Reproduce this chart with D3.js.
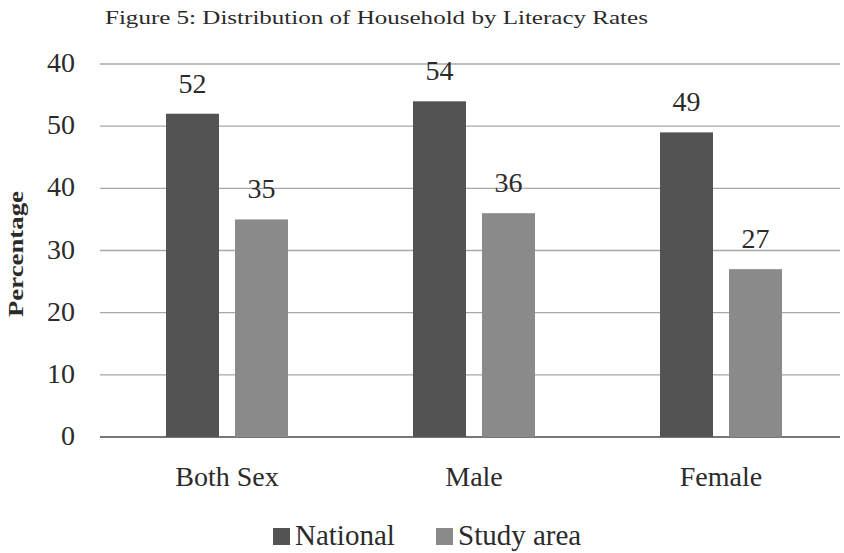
<!DOCTYPE html>
<html>
<head>
<meta charset="utf-8">
<script src="https://cdn.jsdelivr.net/npm/d3@7"></script>
<style>
  html, body { margin: 0; padding: 0; background: #fff; }
  svg { display: block; }
  text { font-family: "Liberation Serif", "Times New Roman", serif; fill: #2b2b2b; }
</style>
</head>
<body>
<svg id="chart" width="844" height="553"></svg>
<script>
// Literacy rates by sex, national vs. study area
const categories = ["Both Sex", "Male", "Female"];
const seriesNames = ["National", "Study area"];
const national = [52, 54, 49];
const studyArea = [35, 36, 27];
const tickValues = [0, 10, 20, 30, 40, 50, 60];
const tickLabels = ["0", "10", "20", "30", "40", "50", "40"];
const colors = ["#535353", "#8a8a8a"];

const svg = d3.select("#chart");
const W = 844;
const plotLeft = 103.5, plotRight = 844.5, plotTop = 64, plotBottom = 437;

const x = d3.scaleBand().domain(categories).range([plotLeft, plotRight]).padding(0);
const y = d3.scaleLinear().domain([0, 60]).range([plotBottom, plotTop]);
// two bars per category, centred in the band with a small gap between them
const groupWidth = 122;
const groupInner = d3.scaleBand().domain(seriesNames)
  .range([(x.bandwidth() - groupWidth) / 2, (x.bandwidth() + groupWidth) / 2])
  .paddingInner(0.232).paddingOuter(0);

// Title, widened horizontally to its full run
const title = svg.append("text")
  .attr("x", 0).attr("y", 0)
  .attr("font-size", 19)
  .text("Figure 5: Distribution of Household by Literacy Rates");
const titleW = title.node().getComputedTextLength();
title.attr("transform", `translate(105, 24) scale(${543 / titleW}, 1)`);

// Gridlines
svg.append("g")
  .selectAll("line")
  .data(tickValues)
  .join("line")
  .attr("x1", 100).attr("x2", W - 4)
  .attr("y1", d => y(d)).attr("y2", d => y(d))
  .attr("stroke", d => d === 0 ? "#4a4a4a" : "#a8a8a8")
  .attr("stroke-width", d => d === 0 ? 1.6 : 1.3);

// Y tick labels
svg.append("g")
  .selectAll("text")
  .data(tickValues)
  .join("text")
  .attr("x", 75)
  .attr("y", d => y(d) + 8)
  .attr("text-anchor", "end")
  .attr("font-size", 28)
  .text((d, i) => tickLabels[i]);

// Y axis title
svg.append("text")
  .attr("transform", `translate(23, 254) rotate(-90)`)
  .attr("text-anchor", "middle")
  .attr("font-size", 21)
  .attr("font-weight", "bold")
  .attr("textLength", 126)
  .attr("lengthAdjust", "spacingAndGlyphs")
  .text("Percentage");

// Bars
const rows = categories.map((c, i) => ({ cat: c, vals: [national[i], studyArea[i]] }));
const groups = svg.append("g")
  .selectAll("g")
  .data(rows)
  .join("g")
  .attr("transform", d => `translate(${x(d.cat)},0)`);

groups.selectAll("rect")
  .data(d => d.vals.map((v, j) => ({ s: seriesNames[j], v, j })))
  .join("rect")
  .attr("x", d => groupInner(d.s))
  .attr("width", groupInner.bandwidth())
  .attr("y", d => y(d.v))
  .attr("height", d => y(0) - y(d.v))
  .attr("fill", d => colors[d.j]);

// Value labels
groups.selectAll("text")
  .data(d => d.vals.map((v, j) => ({ s: seriesNames[j], v, j })))
  .join("text")
  .attr("x", d => groupInner(d.s) + groupInner.bandwidth() / 2)
  .attr("y", d => y(d.v) - 21)
  .attr("text-anchor", "middle")
  .attr("font-size", 28)
  .text(d => d.v);

// Category labels
svg.append("g")
  .selectAll("text")
  .data(categories)
  .join("text")
  .attr("x", d => x(d) + x.bandwidth() / 2)
  .attr("y", 486)
  .attr("text-anchor", "middle")
  .attr("font-size", 28)
  .text(d => d);

// Legend
const legendX = [273, 436];
const legend = svg.append("g")
  .selectAll("g")
  .data(seriesNames)
  .join("g")
  .attr("transform", (d, i) => `translate(${legendX[i]}, 545)`);
legend.append("rect")
  .attr("x", 0).attr("y", -17)
  .attr("width", 17).attr("height", 17)
  .attr("fill", (d, i) => colors[i]);
legend.append("text")
  .attr("x", 22).attr("y", 0)
  .attr("font-size", 29)
  .text(d => d);
</script>
</body>
</html>
